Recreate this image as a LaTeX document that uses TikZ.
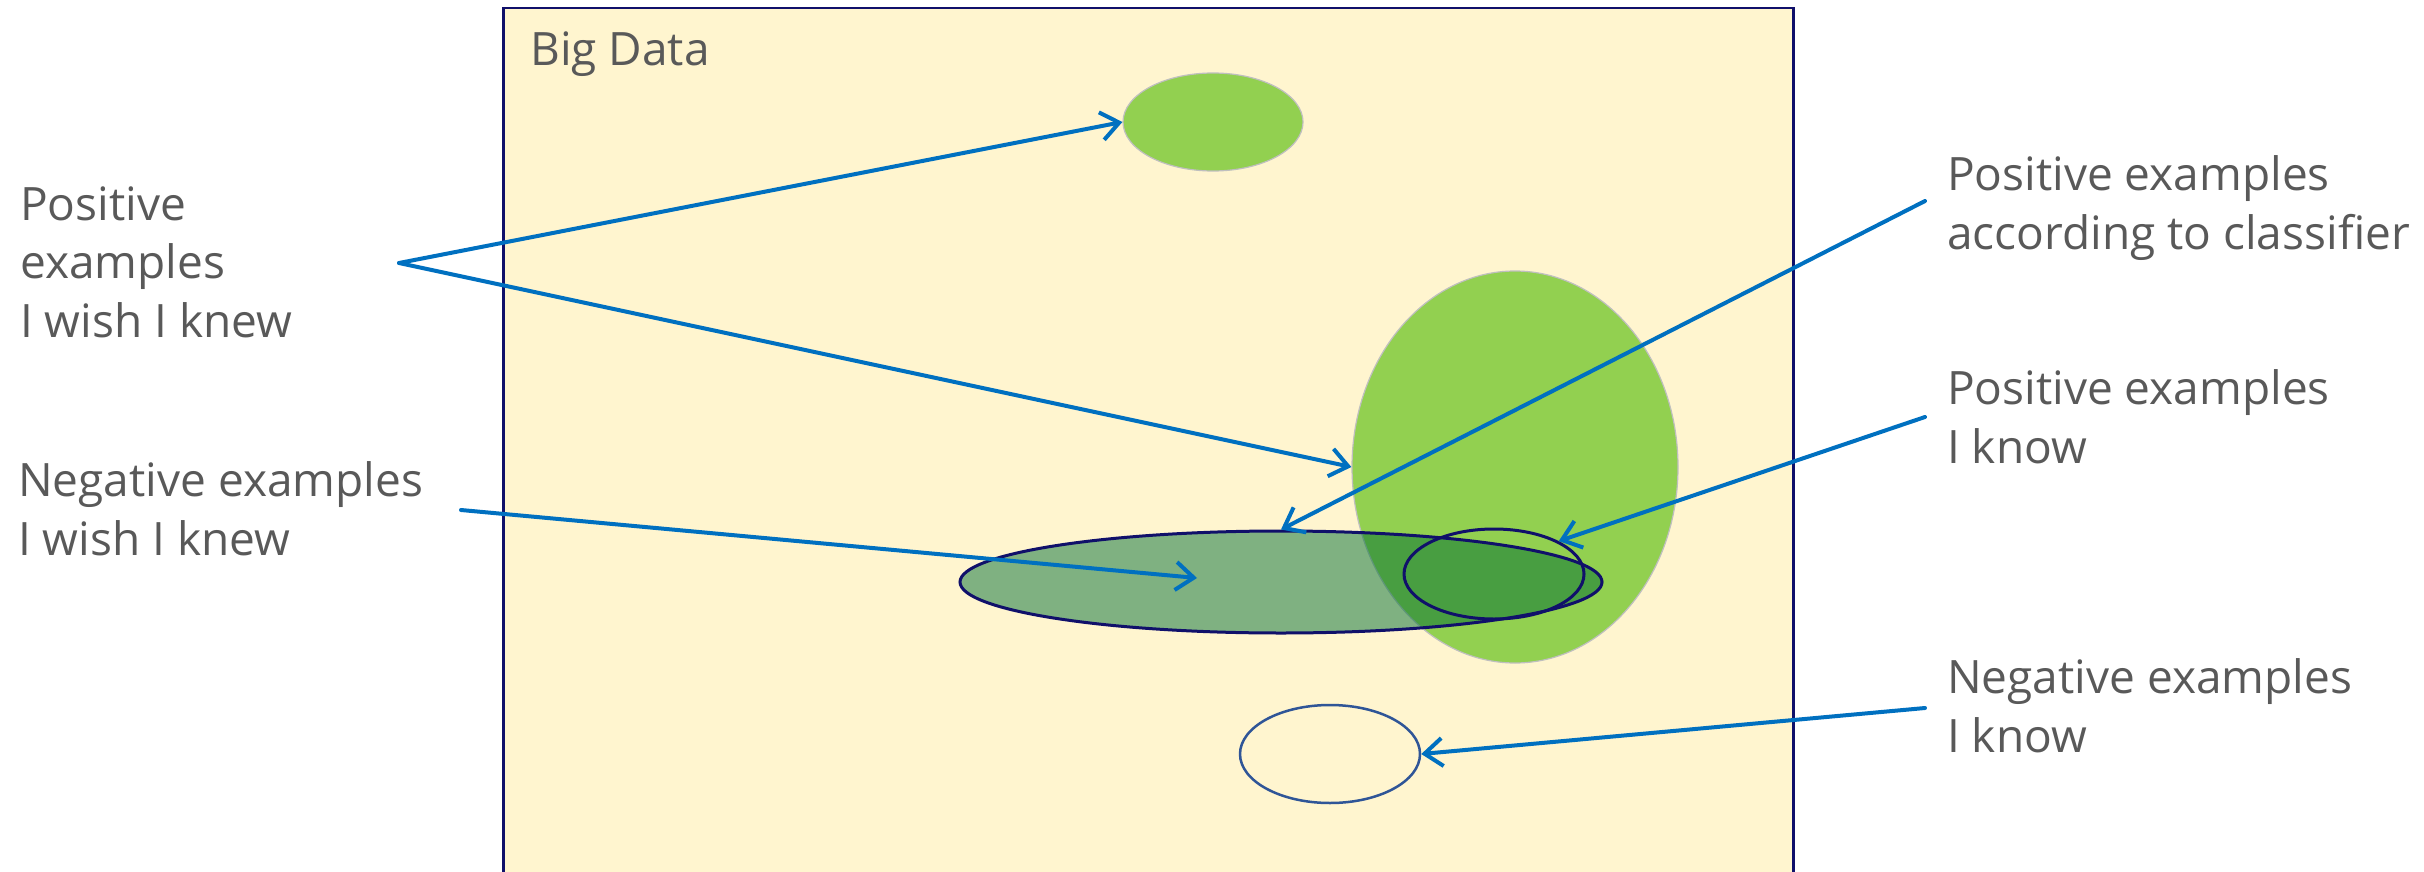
\documentclass[tikz,border=0pt]{standalone}
\usepackage{fontspec}
\setmainfont{Open Sans}
\usetikzlibrary{shapes.geometric, arrows.meta, positioning}
\definecolor{datayellow}{HTML}{FFF5CF}
\definecolor{posgreen}{HTML}{92D050}
\definecolor{classgreen}{RGB}{0,110,52}
\definecolor{framenavy}{HTML}{10106A}
\definecolor{knownblue}{HTML}{2F5597}
\definecolor{arrowblue}{HTML}{0070C0}
\definecolor{labelgray}{HTML}{595959}

\begin{document}
\begin{tikzpicture}[
    x=1pt, y=-1pt,
    >={Straight Barb[length=18pt, width=28pt]},
    % --- node styles ---
    labeltext/.style={
        anchor=base west, inner sep=0pt, align=left,
        text=labelgray, font=\fontsize{46}{58.5}\selectfont
    },
    blob/.style={
        ellipse, inner sep=0pt, fill=posgreen, draw=black!25, line width=1.2pt
    },
    knownset/.style={
        ellipse, inner sep=0pt, line width=3pt
    },
    arrow/.style={->, line width=4pt, color=arrowblue, line cap=round},
]
\useasboundingbox (0,0) rectangle (2424,872);

% ===== BIG DATA FRAME =====
\node[draw=framenavy, fill=datayellow, line width=2.5pt, anchor=north west,
    inner sep=0pt, minimum width=1290pt, minimum height=890pt] (bigdata) at (502,7) {};
\node[labeltext] (bigdatatitle) at (530,66) {Big Data};

% ===== SETS =====
\node[blob, minimum width=180pt, minimum height=98pt] (posfar) at (1213,122) {};
\node[blob, minimum width=326pt, minimum height=392pt] (posnear) at (1515,467) {};
\node[knownset, fill=classgreen, fill opacity=0.5, draw=framenavy,
    minimum width=642pt, minimum height=102pt] (classified) at (1281,582) {};
\node[knownset, draw=framenavy, minimum width=180pt, minimum height=90pt] (posknown) at (1494,574) {};
\node[knownset, draw=knownblue, line width=2.5pt, minimum width=180pt, minimum height=98pt] (negknown) at (1330,754) {};

% ===== LABELS (anchored at the last line) =====
\node[labeltext] (poswish) at (20,337) {Positive\\examples\\I wish I knew};
\node[labeltext] (negwish) at (18,555) {Negative examples\\I wish I knew};
\node[labeltext] (posclasslabel) at (1947,249) {Positive examples\\according to classifier};
\node[labeltext] (posknownlabel) at (1947,463) {Positive examples\\I know};
\node[labeltext] (negknownlabel) at (1947,752) {Negative examples\\I know};

% ===== ARROWS =====
\coordinate (poswish-tail) at (399,263);
\coordinate (negwish-tail) at (461,510);
\coordinate (negwish-head) at (1197,578);
\coordinate (posclass-tail) at (1925,201);
\coordinate (posknown-tail) at (1925,417);
\coordinate (negknown-tail) at (1925,708);

\draw[arrow] (poswish-tail) -- (posfar.west);
\draw[arrow] (poswish-tail) -- (posnear.west);
\draw[arrow] (negwish-tail) -- (negwish-head);
\draw[arrow] (posclass-tail) -- (classified.north);
\draw[arrow] (posknown-tail) -- (posknown.north east);
\draw[arrow] (negknown-tail) -- (negknown.east);

\end{tikzpicture}
\end{document}
